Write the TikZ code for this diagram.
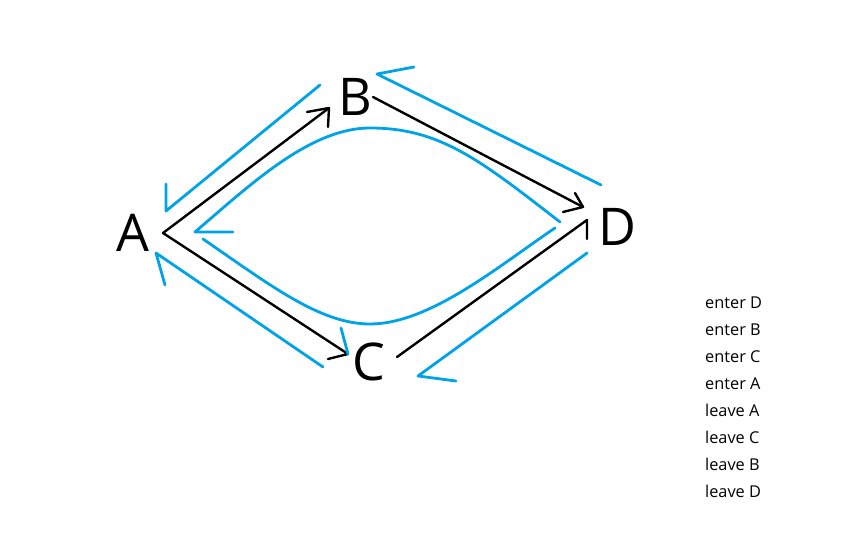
\documentclass[tikz,border=0pt]{standalone}
\usepackage{fontspec}
\setmainfont{Open Sans}
\definecolor{pblue}{RGB}{0,162,232}
\begin{document}
\begin{tikzpicture}[x=1pt,y=-1pt,
  letter/.style={font=\fontsize{52}{52}\selectfont, inner sep=0pt},
  item/.style={font=\fontsize{16.3}{16.3}\selectfont, anchor=base west, inner sep=0pt},
  blk/.style={draw=black, line width=2.4pt, line cap=round, line join=round},
  blu/.style={draw=pblue, line width=2.8pt, line cap=round, line join=round}]
\useasboundingbox (0,0) rectangle (864,540);
% letters
\node[letter] (A) at (133,233) {A};
\node[letter] (B) at (355.5,97) {B};
\node[letter] (C) at (369,362) {C};
\node[letter] (D) at (617,227) {D};
% black arrows
\coordinate (a0) at (163,233);
\coordinate (ab) at (329,108);
\coordinate (ab1) at (307,112);
\coordinate (ab2) at (328,127);
\draw[blk] (a0) -- (ab);
\draw[blk] (ab1) -- (ab) -- (ab2);
\coordinate (ac) at (348,354);
\coordinate (ac1) at (328,359);
\coordinate (ac2) at (341,328);
\draw[blk] (a0) -- (ac) -- (ac1);
\draw[blu] (ac2) -- (ac);
\coordinate (b0) at (373,97);
\coordinate (bd) at (583,207);
\coordinate (bd1) at (563,212);
\coordinate (bd2) at (575,193);
\draw[blk] (b0) -- (bd);
\draw[blk] (bd1) -- (bd) -- (bd2);
\coordinate (c0) at (397,357);
\coordinate (cd) at (587,220);
\coordinate (cd1) at (587,239);
\draw[blk] (c0) -- (cd) -- (cd1);
% blue strokes
\coordinate (u1) at (320,85);
\coordinate (u2) at (166,211);
\coordinate (u3) at (166,184);
\draw[blu] (u1) -- (u2) -- (u3);
\coordinate (r1) at (601,185);
\coordinate (r2) at (377,74);
\coordinate (r3) at (414,67);
\draw[blu] (r1) -- (r2) -- (r3);
\coordinate (l1) at (323,367);
\coordinate (l2) at (156,253);
\coordinate (l3) at (165,285);
\draw[blu] (l1) -- (l2) -- (l3);
\coordinate (d1) at (587,253);
\coordinate (d2) at (418,376);
\coordinate (d3) at (456,381);
\draw[blu] (d1) -- (d2) -- (d3);
% inner curves
\coordinate (s1) at (560,222);
\coordinate (top) at (370,128);
\coordinate (e1) at (195,232);
\coordinate (e1b) at (233,232);
\draw[blu] (s1) .. controls (480,160) and (440,128) .. (top)
  .. controls (310,128) and (250,185) .. (e1) -- (e1b);
\coordinate (s2) at (203,239);
\coordinate (bot) at (370,324);
\coordinate (e2) at (555,228);
\draw[blu] (s2) .. controls (270,285) and (320,324) .. (bot)
  .. controls (430,324) and (500,265) .. (e2);
% list
\node[item] (t1) at (705,308) {enter D};
\node[item] (t2) at (705,335) {enter B};
\node[item] (t3) at (705,362) {enter C};
\node[item] (t4) at (705,389) {enter A};
\node[item] (t5) at (705,416) {leave A};
\node[item] (t6) at (705,443) {leave C};
\node[item] (t7) at (705,470) {leave B};
\node[item] (t8) at (705,497) {leave D};
\end{tikzpicture}
\end{document}
